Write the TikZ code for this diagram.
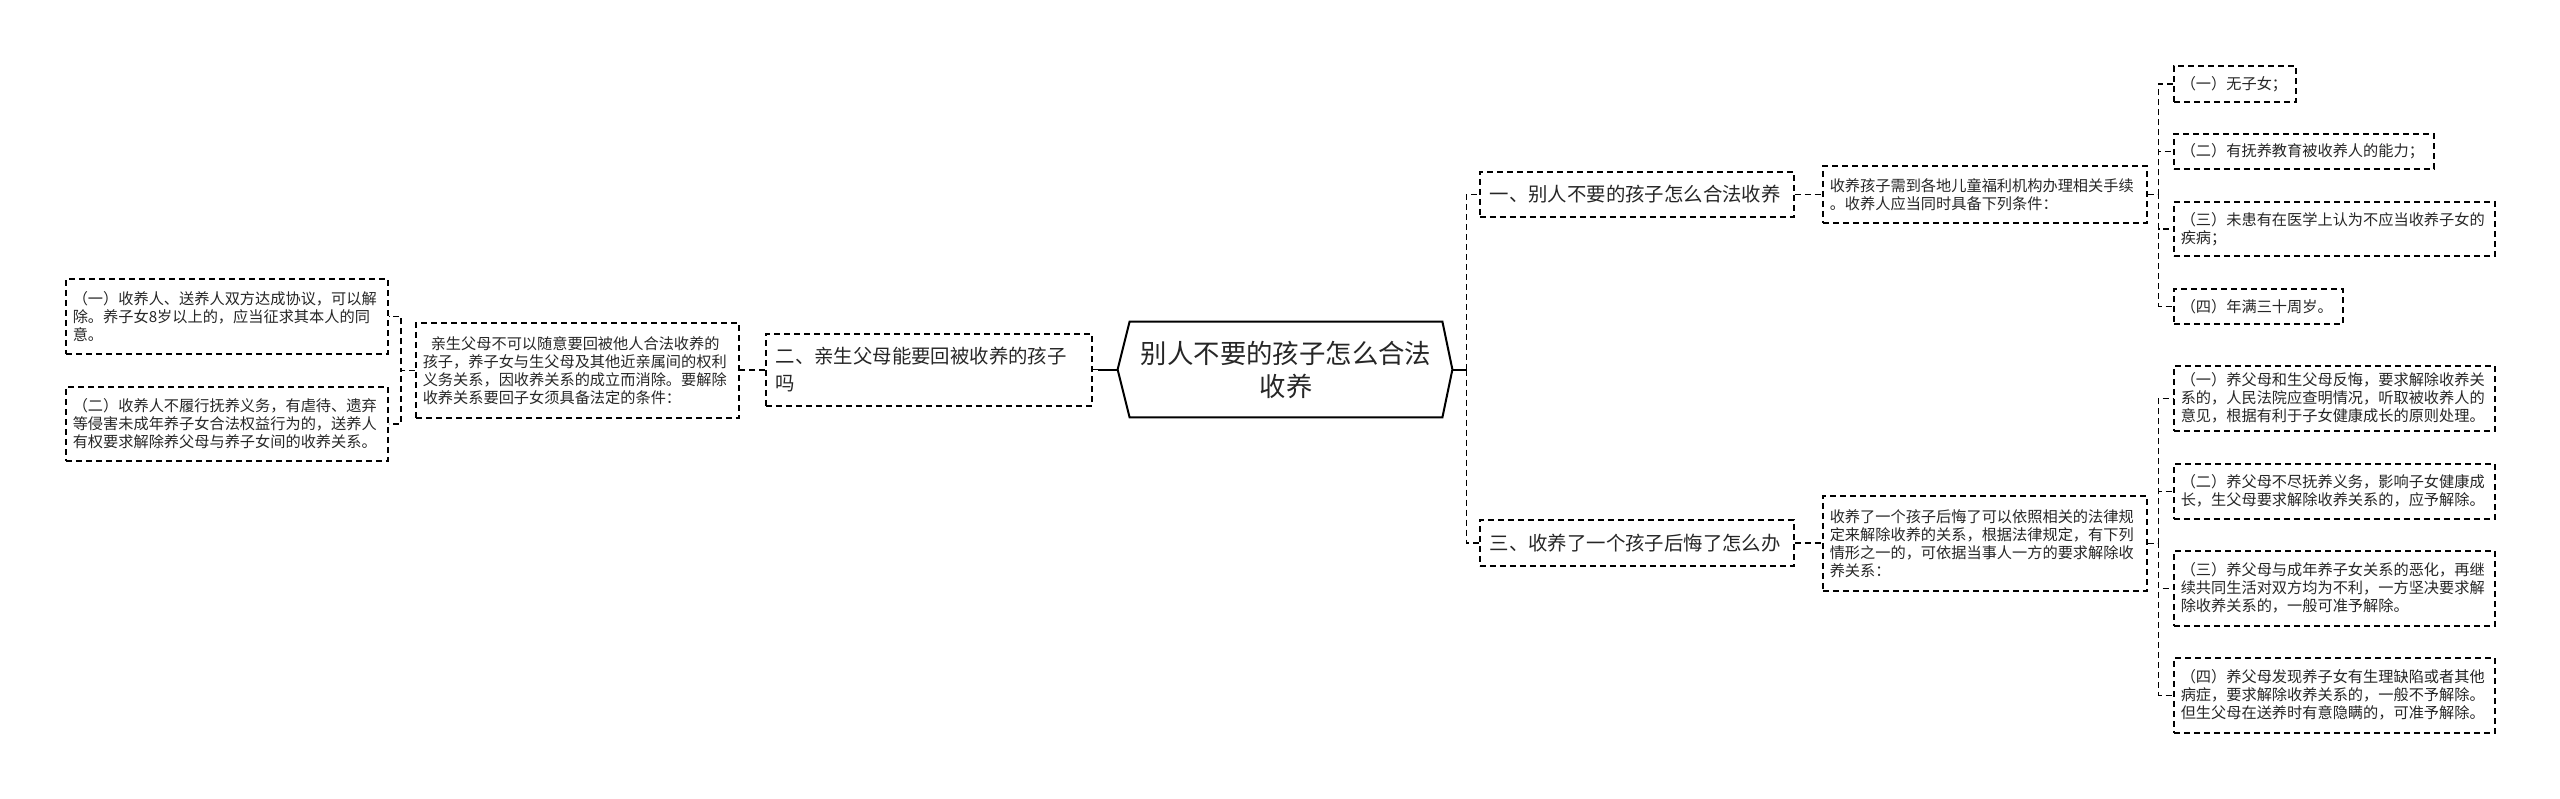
\documentclass[tikz,border=0pt]{standalone}
\usepackage{fontspec}
\setmainfont{Noto Sans CJK SC}
\usepackage{tikz}
\usetikzlibrary{positioning}

\begin{document}
\begin{tikzpicture}[
    x=0.5pt, y=-0.5pt,
    rootnode/.style={font=\fontsize{13.2}{16.5}\selectfont, align=center, inner sep=0pt, text=black!85},
    topic/.style={draw, line width=0.75pt, dash pattern=on 3pt off 2pt, anchor=north west,
      font=\fontsize{9.7}{13.5}\selectfont, align=left, inner xsep=5pt, inner ysep=0pt, text=black!85},
    leaf/.style={draw, line width=0.75pt, dash pattern=on 3pt off 2pt, anchor=north west,
      font=\fontsize{7.6}{9}\selectfont, align=left, inner xsep=3.5pt, inner ysep=0pt, text=black!85},
    link/.style={line width=0.75pt, dash pattern=on 3pt off 2pt},
    trunk/.style={line width=1pt}
]
\useasboundingbox (0,0) rectangle (2560,798);

% Root
\node[rootnode, minimum width=156pt, minimum height=47.5pt] (root) at (1286,369.5) {别人不要的孩子怎么合法\\收养};
\coordinate (ltip) at ([xshift=-6pt]root.west);
\coordinate (rtip) at ([xshift=5pt]root.east);
\draw[trunk] (root.north west) -- (root.north east) -- (rtip) -- (root.south east)
  -- (root.south west) -- (ltip) -- cycle;

% Left branch
\node[topic, text width=153pt, minimum height=36pt] (b2) at (765,333) {二、亲生父母能要回被收养的孩子\\吗};
\node[leaf, text width=154.5pt, minimum height=47.5pt] (b2d) at (415,322) {\hspace*{4pt}亲生父母不可以随意要回被他人合法收养的\\孩子，养子女与生父母及其他近亲属间的权利\\义务关系，因收养关系的成立而消除。要解除\\收养关系要回子女须具备法定的条件：};
\node[leaf, text width=154pt, minimum height=37.5pt] (l1) at (65,278) {（一）收养人、送养人双方达成协议，可以解\\除。养子女8岁以上的，应当征求其本人的同\\意。};
\node[leaf, text width=154pt, minimum height=37pt] (l2) at (65,386) {（二）收养人不履行抚养义务，有虐待、遗弃\\等侵害未成年养子女合法权益行为的，送养人\\有权要求解除养父母与养子女间的收养关系。};

% Right branches
\node[topic, text width=147pt, minimum height=22.5pt] (b1) at (1479,171) {一、别人不要的孩子怎么合法收养};
\node[leaf, text width=155pt, minimum height=28.5pt] (b1d) at (1822,165) {收养孩子需到各地儿童福利机构办理相关手续\\。收养人应当同时具备下列条件：};
\node[topic, text width=147pt, minimum height=23pt] (b3) at (1479,519) {三、收养了一个孩子后悔了怎么办};
\node[leaf, text width=155pt, minimum height=47.5pt] (b3d) at (1822,495) {收养了一个孩子后悔了可以依照相关的法律规\\定来解除收养的关系，根据法律规定，有下列\\情形之一的，可依据当事人一方的要求解除收\\养关系：};

% Conditions
\node[leaf, text width=54pt, minimum height=18pt] (r1) at (2173,65) {（一）无子女；};
\node[leaf, text width=123pt, minimum height=17.5pt] (r2) at (2173,133) {（二）有抚养教育被收养人的能力；};
\node[leaf, text width=153.5pt, minimum height=27pt] (r3) at (2173,201) {（三）未患有在医学上认为不应当收养子女的\\疾病；};
\node[leaf, text width=77.5pt, minimum height=17.5pt] (r4) at (2173,288) {（四）年满三十周岁。};

% Cases
\node[leaf, text width=153.5pt, minimum height=32.5pt] (r5) at (2173,365) {（一）养父母和生父母反悔，要求解除收养关\\系的，人民法院应查明情况，听取被收养人的\\意见，根据有利于子女健康成长的原则处理。};
\node[leaf, text width=153.5pt, minimum height=27.5pt] (r6) at (2173,463) {（二）养父母不尽抚养义务，影响子女健康成\\长，生父母要求解除收养关系的，应予解除。};
\node[leaf, text width=153.5pt, minimum height=37.5pt] (r7) at (2173,550) {（三）养父母与成年养子女关系的恶化，再继\\续共同生活对双方均为不利，一方坚决要求解\\除收养关系的，一般可准予解除。};
\node[leaf, text width=153.5pt, minimum height=37.5pt] (r8) at (2173,657) {（四）养父母发现养子女有生理缺陷或者其他\\病症，要求解除收养关系的，一般不予解除。\\但生父母在送养时有意隐瞒的，可准予解除。};

% Connectors
\coordinate (lj) at ([xshift=-16pt]root.west);
\coordinate (rj) at ([xshift=12pt]root.east);
\draw[trunk] (ltip) -- (lj);
\draw[trunk] (rtip) -- (rj);
\draw[link] (lj) -- (lj -| b2.east);
\draw[link] (rj) |- (b1.west);
\draw[link] (rj) |- (b3.west);

\draw[link] (b2.west) -- (b2.west -| b2d.east);
\coordinate (jb) at ([xshift=-7pt]b2d.west);
\foreach \n in {l1,l2}
  \draw[link] (b2d.west) -- (jb) |- (\n.east);

\draw[link] (b1.east) -- (b1.east -| b1d.west);
\coordinate (ja) at ([xshift=5.5pt]b1d.east);
\foreach \n in {r1,r2,r3,r4}
  \draw[link] (b1d.east) -- (ja) |- (\n.west);

\draw[link] (b3.east) -- (b3.east -| b3d.west);
\coordinate (jc) at ([xshift=5.5pt]b3d.east);
\foreach \n in {r5,r6,r7,r8}
  \draw[link] (b3d.east) -- (jc) |- (\n.west);

\end{tikzpicture}
\end{document}
